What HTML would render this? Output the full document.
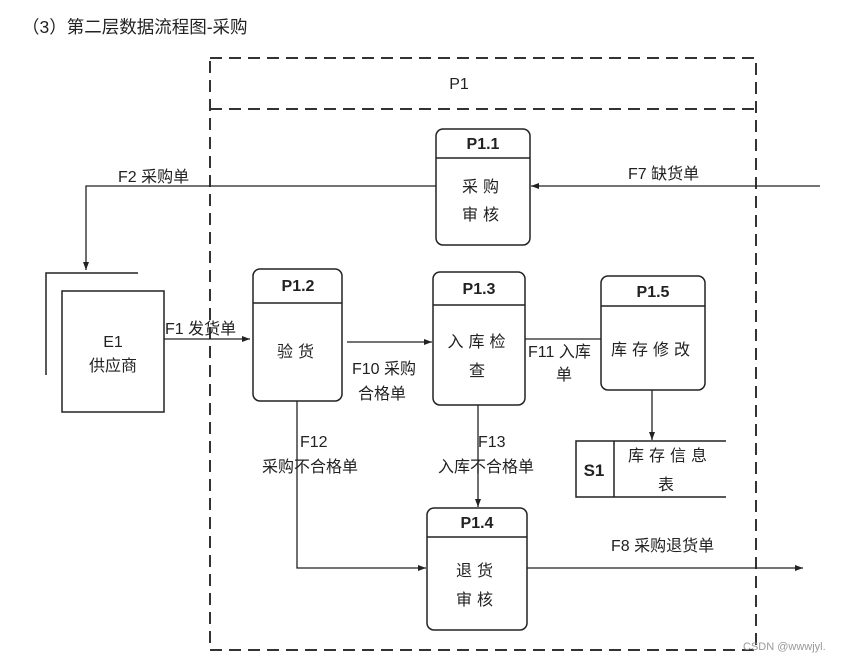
<!DOCTYPE html>
<html><head><meta charset="utf-8"><style>
html,body{margin:0;padding:0;background:#fff;}
svg{display:block;}
text{font-family:"Liberation Sans","Noto Sans CJK SC",sans-serif;fill:#222;}
</style></head><body>
<svg width="847" height="661" viewBox="0 0 847 661" xmlns="http://www.w3.org/2000/svg">
<defs><marker id="a" markerWidth="10" markerHeight="10" refX="8" refY="4.5" orient="auto" markerUnits="userSpaceOnUse"><path d="M0,1.5 L8,4.5 L0,7.5 z" fill="#222"/></marker></defs>
<text x="22" y="33" font-size="17.5" fill="#111">（3）第二层数据流程图-采购</text>
<g stroke="#333" stroke-width="2" fill="none" stroke-dasharray="12,7">
<rect x="210" y="58" width="546" height="592"/>
<line x1="210" y1="109" x2="756" y2="109"/>
</g>
<text x="459" y="89" font-size="16" text-anchor="middle">P1</text>
<g stroke="#222" stroke-width="1.5" fill="none">
<rect x="436" y="129" width="94" height="116" rx="7"/><line x1="436" y1="158" x2="530" y2="158"/>
<rect x="62" y="291" width="102" height="121"/>
<polyline points="138,273 46,273 46,375"/>
<rect x="253" y="269" width="89" height="132" rx="7"/><line x1="253" y1="303" x2="342" y2="303"/>
<rect x="433" y="272" width="92" height="133" rx="7"/><line x1="433" y1="305" x2="525" y2="305"/>
<rect x="601" y="276" width="104" height="114" rx="7"/><line x1="601" y1="306" x2="705" y2="306"/>
<polyline points="726,441 576,441 576,497 726,497"/><line x1="614" y1="441" x2="614" y2="497"/>
<rect x="427" y="508" width="100" height="122" rx="7"/><line x1="427" y1="537" x2="527" y2="537"/>
</g>
<g stroke="#222" stroke-width="1.3" fill="none" marker-end="url(#a)">
<line x1="820" y1="186" x2="531" y2="186"/>
<polyline points="436,186 86,186 86,270"/>
<line x1="164" y1="339" x2="250" y2="339"/>
<line x1="347" y1="342" x2="432" y2="342"/>
<line x1="652" y1="390" x2="652" y2="440"/>
<line x1="478" y1="405" x2="478" y2="507"/>
<polyline points="297,401 297,568 426,568"/>
<line x1="527" y1="568" x2="803" y2="568"/>
</g>
<line x1="525" y1="339" x2="601" y2="339" stroke="#222" stroke-width="1.3"/>
<g font-size="16" text-anchor="middle">
<text x="483" y="149" font-weight="bold">P1.1</text>
<text x="298" y="291" font-weight="bold">P1.2</text>
<text x="479" y="294" font-weight="bold">P1.3</text>
<text x="653" y="297" font-weight="bold">P1.5</text>
<text x="477" y="528" font-weight="bold">P1.4</text>
<text x="594" y="476" font-weight="bold" font-size="17">S1</text>
<text x="113" y="347">E1</text>
</g>
<g font-size="16" text-anchor="middle" fill="#333">
<text x="483" y="192" letter-spacing="5">采购</text>
<text x="483" y="220" letter-spacing="5">审核</text>
<text x="113" y="371">供应商</text>
<text x="298" y="357" letter-spacing="5">验货</text>
<text x="479" y="347" letter-spacing="5">入库检</text>
<text x="477" y="376">查</text>
<text x="653" y="355" letter-spacing="5">库存修改</text>
<text x="670" y="461" letter-spacing="5">库存信息</text>
<text x="666" y="490">表</text>
<text x="477" y="576" letter-spacing="5">退货</text>
<text x="477" y="605" letter-spacing="5">审核</text>
</g>
<g font-size="16">
<text x="628" y="179">F7 缺货单</text>
<text x="118" y="182">F2 采购单</text>
<text x="165" y="334">F1 发货单</text>
<text x="352" y="374">F10 采购</text>
<text x="358" y="399">合格单</text>
<text x="528" y="357">F11 入库</text>
<text x="556" y="380">单</text>
<text x="300" y="447">F12</text>
<text x="262" y="472">采购不合格单</text>
<text x="478" y="447">F13</text>
<text x="438" y="472">入库不合格单</text>
<text x="611" y="551">F8 采购退货单</text>
</g>
<text x="743" y="650" font-size="11" style="fill:#999">CSDN @wwwjyl.</text>
</svg>
</body></html>
